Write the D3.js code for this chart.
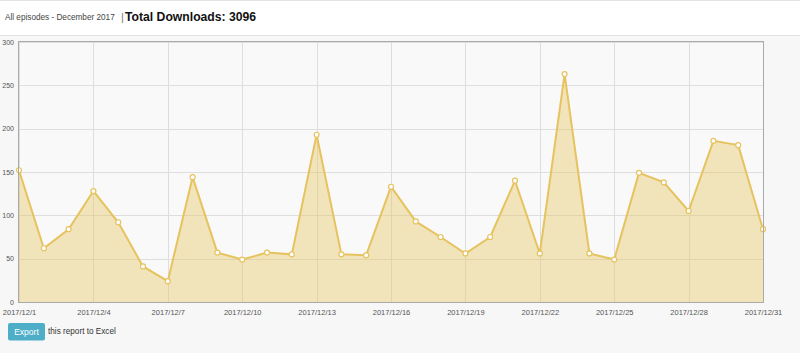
<!DOCTYPE html>
<html>
<head>
<meta charset="utf-8">
<script src="https://cdn.jsdelivr.net/npm/d3@7"></script>
<style>
  body { margin: 0; background: #f7f7f7; font-family: "Liberation Sans", Arial, sans-serif; }
  svg { display: block; }
</style>
</head>
<body>
<script>
// Downloads per day, December 2017
const days = d3.range(1, 32).map(d => new Date(2017, 11, d));
const downloads = [152, 62, 84, 128, 92, 41, 24, 144, 57, 49, 57, 55, 193, 55, 54, 133,
                   93, 75, 56, 75, 140, 56, 263, 56, 49, 149, 138, 105, 186, 181, 84];
const yTicks = [0, 50, 100, 150, 200, 250, 300];
const titleText = "All episodes - December 2017";
const totalText = "Total Downloads: 3096";

const data = days.map((d, i) => ({ date: d, value: downloads[i] }));

const W = 800, H = 353;
const margin = { top: 42, right: 37, bottom: 51, left: 19 };
const width = W - margin.left - margin.right;
const height = H - margin.top - margin.bottom;
const font = "Liberation Sans, Arial, sans-serif";

const svg = d3.select("body").append("svg")
    .attr("width", W)
    .attr("height", H)
    .attr("font-family", font);

// header band
svg.append("rect")
    .attr("x", 0).attr("y", 0)
    .attr("width", W).attr("height", 35)
    .attr("fill", "#fff");
svg.append("line")
    .attr("x1", 0).attr("x2", W).attr("y1", 0.5).attr("y2", 0.5)
    .attr("stroke", "#e3e3e3");
svg.append("line")
    .attr("x1", 0).attr("x2", W).attr("y1", 35.5).attr("y2", 35.5)
    .attr("stroke", "#e3e3e3");

svg.append("text")
    .attr("x", 5).attr("y", 20)
    .attr("font-size", 8.2)
    .attr("fill", "#444")
    .text(titleText);
svg.append("text")
    .attr("x", 121).attr("y", 20.5)
    .attr("font-size", 11)
    .attr("fill", "#777")
    .text("|");
svg.append("text")
    .attr("x", 125).attr("y", 20.5)
    .attr("font-size", 12.2)
    .attr("font-weight", "bold")
    .attr("fill", "#111")
    .text(totalText);

const g = svg.append("g")
    .attr("transform", `translate(${margin.left}, ${margin.top})`);

// scales
const xScale = d3.scaleTime()
    .domain(d3.extent(days))
    .range([0, width]);

const yScale = d3.scaleLinear()
    .domain([0, 300])
    .range([height, 0]);

const xTicks = d3.timeDay.every(3).range(days[0], d3.timeDay.offset(days[30], 1));
const fmt = d => `${d.getFullYear()}/${d.getMonth() + 1}/${d.getDate()}`;

// plot background
g.append("rect")
    .attr("width", width).attr("height", height)
    .attr("fill", "#f9f9f9");

// grid
g.append("g").selectAll("line")
    .data(yTicks)
    .enter().append("line")
    .attr("x1", 0).attr("x2", width)
    .attr("y1", d => Math.round(yScale(d)) + 0.5)
    .attr("y2", d => Math.round(yScale(d)) + 0.5)
    .attr("stroke", "#dedede");

g.append("g").selectAll("line")
    .data(xTicks)
    .enter().append("line")
    .attr("x1", d => Math.round(xScale(d)) + 0.5)
    .attr("x2", d => Math.round(xScale(d)) + 0.5)
    .attr("y1", 0).attr("y2", height)
    .attr("stroke", "#dedede");

// area + line
const area = d3.area()
    .x(d => xScale(d.date))
    .y0(height)
    .y1(d => yScale(d.value));

const line = d3.line()
    .x(d => xScale(d.date))
    .y(d => yScale(d.value));

g.append("path")
    .datum(data)
    .attr("d", area)
    .attr("fill", "rgba(230, 196, 92, 0.4)");

g.append("path")
    .datum(data)
    .attr("d", line)
    .attr("fill", "none")
    .attr("stroke", "#e6c35f")
    .attr("stroke-width", 2);

g.selectAll("circle")
    .data(data)
    .enter().append("circle")
    .attr("cx", d => xScale(d.date))
    .attr("cy", d => yScale(d.value))
    .attr("r", 2.5)
    .attr("fill", "#fff")
    .attr("stroke", "#e6c35f")
    .attr("stroke-width", 1.2);

// frame
g.append("rect")
    .attr("x", -0.5).attr("y", -0.5)
    .attr("width", width + 1).attr("height", height + 1)
    .attr("fill", "none")
    .attr("stroke", "#aaa");

// axes
const yAxis = g.append("g")
    .call(d3.axisLeft(yScale).tickValues(yTicks).tickSize(0).tickPadding(5));
yAxis.select(".domain").remove();
yAxis.selectAll("text")
    .attr("font-size", 7)
    .attr("fill", "#555")
    .attr("font-family", font);

const xAxis = g.append("g")
    .attr("transform", `translate(0, ${height})`)
    .call(d3.axisBottom(xScale).tickValues(xTicks).tickFormat(fmt).tickSize(0).tickPadding(8));
xAxis.select(".domain").remove();
xAxis.selectAll("text")
    .attr("font-size", 7.5)
    .attr("fill", "#555")
    .attr("font-family", font);

// export button
svg.append("rect")
    .attr("x", 8).attr("y", 323)
    .attr("width", 37).attr("height", 17.5)
    .attr("rx", 2)
    .attr("fill", "#4eaec8");
svg.append("text")
    .attr("x", 26.5).attr("y", 334.5)
    .attr("text-anchor", "middle")
    .attr("font-size", 8.5)
    .attr("fill", "#fff")
    .text("Export");
svg.append("text")
    .attr("x", 48).attr("y", 334)
    .attr("font-size", 8.2)
    .attr("fill", "#333")
    .text("this report to Excel");
</script>
</body>
</html>
